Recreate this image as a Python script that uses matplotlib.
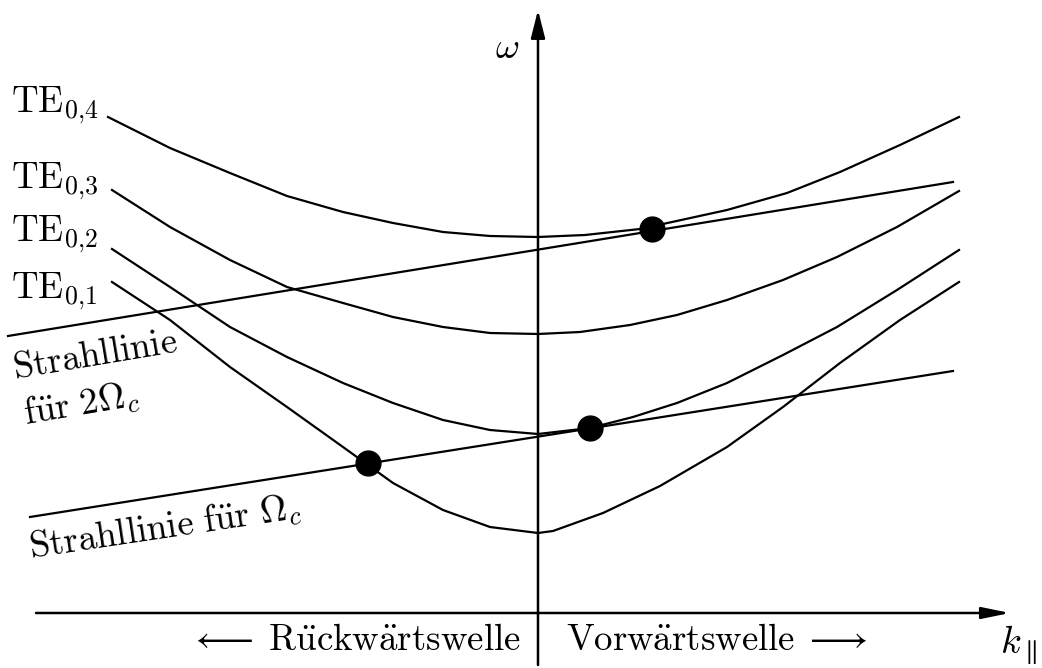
import numpy as np
import matplotlib
matplotlib.use("Agg")
from matplotlib import pyplot as plt

plt.rcParams['mathtext.fontset'] = 'cm'

# dispersion branches (k_par, omega)
te04_k = [-4.30, -3.68, -3.08, -2.51, -1.95, -1.45, -0.95, -0.48, 0.00, 0.47, 1.02, 1.89, 2.49, 3.02, 3.62, 4.21]
te04_w = [4.95, 4.64, 4.39, 4.16, 4.00, 3.89, 3.80, 3.76, 3.75, 3.77, 3.83, 4.02, 4.19, 4.40, 4.67, 4.95]

te03_k = [-4.26, -3.68, -3.08, -2.51, -1.95, -1.45, -0.95, -0.48, 0.00, 0.42, 0.92, 1.39, 1.89, 2.45, 2.99, 3.59, 4.21]
te03_w = [4.22, 3.85, 3.52, 3.25, 3.09, 2.95, 2.85, 2.79, 2.78, 2.80, 2.87, 2.97, 3.12, 3.32, 3.55, 3.85, 4.21]

te02_k = [-4.26, -3.68, -3.08, -2.51, -1.95, -1.45, -0.95, -0.48, 0.00, 0.52, 0.95, 1.39, 1.89, 2.45, 2.99, 3.59, 4.21]
te02_w = [3.63, 3.25, 2.85, 2.55, 2.29, 2.09, 1.92, 1.82, 1.78, 1.84, 1.95, 2.09, 2.29, 2.57, 2.85, 3.22, 3.62]

te01_k = [-4.26, -3.68, -3.08, -2.51, -1.95, -1.45, -0.95, -0.48, 0.00, 0.15, 0.65, 1.22, 1.89, 2.45, 3.02, 3.62, 4.21]
te01_w = [3.30, 2.92, 2.45, 2.05, 1.65, 1.29, 1.02, 0.85, 0.79, 0.81, 0.99, 1.26, 1.65, 2.05, 2.49, 2.92, 3.30]

# beam lines
beam2_k = [-5.30, 4.15]
beam2_w = [2.76, 4.30]
beam1_k = [-5.08, 4.15]
beam1_w = [0.95, 2.41]

# resonance points
res_k = [-1.70, 0.52, 1.14]
res_w = [1.49, 1.84, 3.83]

mode_labels = [r'$\mathrm{TE}_{0{,}4}$', r'$\mathrm{TE}_{0{,}3}$', r'$\mathrm{TE}_{0{,}2}$', r'$\mathrm{TE}_{0{,}1}$']
mode_label_w = [5.07, 4.31, 3.78, 3.21]

fig = plt.figure(figsize=(10.42, 6.68), dpi=100)
ax = fig.add_axes([0, 0, 1, 1])
ax.set_xlim(-5.38, 5.04)
ax.set_ylim(-0.56, 6.12)
ax.axis('off')

lw = 1.6
for k, w in [(te04_k, te04_w), (te03_k, te03_w), (te02_k, te02_w), (te01_k, te01_w)]:
    ax.plot(k, w, color='black', lw=lw, solid_joinstyle='round')
ax.plot(beam2_k, beam2_w, color='black', lw=lw)
ax.plot(beam1_k, beam1_w, color='black', lw=lw)
ax.scatter(res_k, res_w, s=320, color='black', zorder=5)

# axes with arrows
ax.annotate('', xy=(4.72, -0.01), xytext=(-5.02, -0.01),
            arrowprops=dict(arrowstyle='-|>,head_length=17,head_width=3.5', mutation_scale=1,
                            lw=1.8, color='black', shrinkA=0, shrinkB=0))
ax.annotate('', xy=(0, 6.02), xytext=(0, -0.53),
            arrowprops=dict(arrowstyle='-|>,head_length=17,head_width=4.3', mutation_scale=1,
                            lw=1.8, color='black', shrinkA=0, shrinkB=0))

fs = 26.5
for lab, w in zip(mode_labels, mode_label_w):
    ax.text(-5.27, w, lab, fontsize=fs, ha='left', va='center')

ax.text(-0.31, 5.64, r'$\omega$', fontsize=fs, ha='center', va='center')
ax.text(4.81, -0.33, r'$k_\parallel$', fontsize=27.5, ha='center', va='center')
ax.text(-1.83, -0.28, r'$\longleftarrow\;\mathrm{R\ddot{u}ckw\ddot{a}rtswelle}$', fontsize=fs,
        ha='center', va='center')
ax.text(1.79, -0.28, r'$\mathrm{Vorw\ddot{a}rtswelle}\;\longrightarrow$', fontsize=fs,
        ha='center', va='center')

ax.text(-4.43, 2.57, r'$\mathrm{Strahllinie}$', fontsize=fs, ha='center', va='center',
        rotation=9.5, rotation_mode='anchor')
ax.text(-4.57, 2.07, r'$\mathrm{f\ddot{u}r}\ 2\Omega_c$', fontsize=fs, ha='center', va='center',
        rotation=9.5, rotation_mode='anchor')
ax.text(-3.73, 0.84, r'$\mathrm{Strahllinie\ f\ddot{u}r}\ \Omega_c$', fontsize=fs, ha='center',
        va='center', rotation=8.5, rotation_mode='anchor')

fig.savefig('out.png', dpi=100)
